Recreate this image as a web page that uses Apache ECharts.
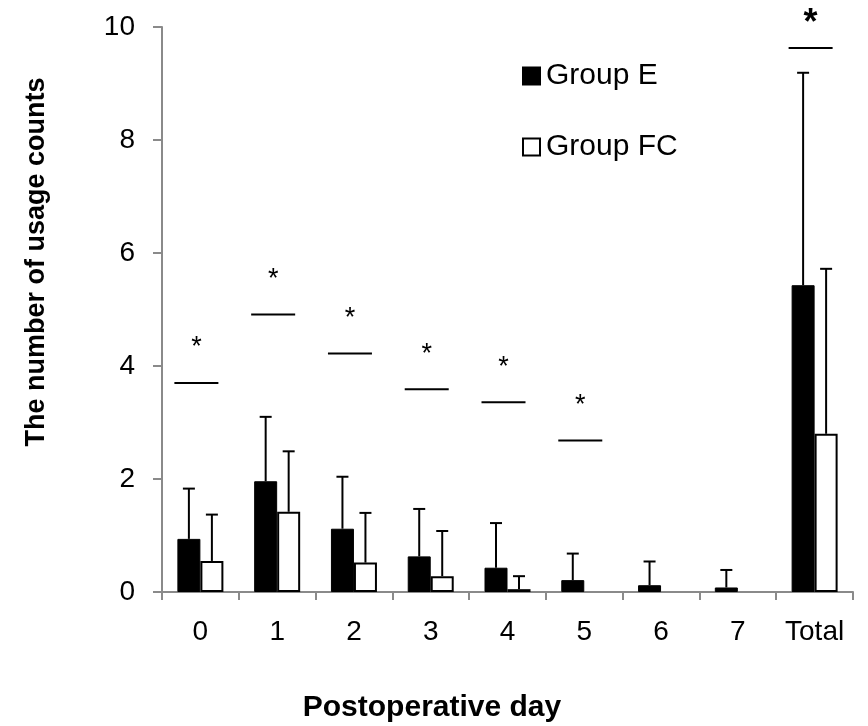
<!DOCTYPE html>
<html>
<head>
<meta charset="utf-8">
<script src="https://cdn.jsdelivr.net/npm/echarts@6/dist/echarts.min.js"></script>
<style>
  html, body { margin: 0; padding: 0; background: #fff; }
  #chart { width: 868px; height: 726px; }
</style>
</head>
<body>
<div id="chart"></div>
<script>
// data
const days = ['0', '1', '2', '3', '4', '5', '6', '7', 'Total'];
const groupE = [0.94, 1.96, 1.12, 0.63, 0.43, 0.21, 0.12, 0.08, 5.43];
const errE = [0.89, 1.14, 0.92, 0.84, 0.79, 0.47, 0.42, 0.31, 3.76];
const groupFC = [0.55, 1.42, 0.52, 0.28, 0.05, 0, 0, 0, 2.80];
const errFC = [0.82, 1.07, 0.88, 0.80, 0.23, 0, 0, 0, 2.92];
const sigLevel = [3.70, 4.91, 4.22, 3.59, 3.36, 2.68, null, null, 9.63];
const yTicks = [0, 2, 4, 6, 8, 10];

const FONT = 'Liberation Sans';
const BAR_W = 23;
const AXIS_GRAY = '#8a8a8a';

const myChart = echarts.init(document.getElementById('chart'));

function errorBar(shift) {
    return function (params, api) {
        const i = api.value(0);
        if (api.value(2) <= api.value(1)) return null;
        const base = api.coord([i, api.value(1)]);
        const top = api.coord([i, api.value(2)]);
        const x = base[0] + shift;
        const st = { stroke: '#000', lineWidth: 2 };
        return {
            type: 'group',
            children: [
                { type: 'line', shape: { x1: x, y1: base[1], x2: x, y2: top[1] }, style: st },
                { type: 'line', shape: { x1: x - 6, y1: top[1], x2: x + 6, y2: top[1] }, style: st }
            ]
        };
    };
}

const sigData = [];
sigLevel.forEach(function (v, i) {
    if (v != null) sigData.push([i, v]);
});

// zero-height bars are not drawn in the original
function hideZero(arr) {
    return arr.map(function (v) { return v === 0 ? '-' : v; });
}

const option = {
    animation: false,
    grid: { left: 162, right: 15, top: 27, bottom: 134 },
    legend: {
        orient: 'vertical',
        left: 522,
        top: 61,
        padding: 0,
        icon: 'rect',
        itemWidth: 17,
        itemHeight: 17,
        itemGap: 41,
        data: ['Group E', 'Group FC'],
        textStyle: { fontFamily: FONT, fontSize: 30, color: '#000', padding: [0, 0, 0, 1] }
    },
    xAxis: {
        type: 'category',
        data: days,
        boundaryGap: true,
        axisLine: { lineStyle: { color: AXIS_GRAY, width: 2 } },
        axisTick: { show: true, interval: 0, length: 8, lineStyle: { color: AXIS_GRAY, width: 2 } },
        axisLabel: { interval: 0, fontFamily: FONT, fontSize: 28, color: '#000', margin: 26 }
    },
    yAxis: {
        type: 'value',
        min: yTicks[0],
        max: yTicks[yTicks.length - 1],
        interval: 2,
        splitLine: { show: false },
        axisLine: { show: true, lineStyle: { color: AXIS_GRAY, width: 2 } },
        axisTick: { show: true, length: 9, lineStyle: { color: AXIS_GRAY, width: 2 } },
        axisLabel: { fontFamily: FONT, fontSize: 28, color: '#000', margin: 27 }
    },
    graphic: [
        {
            type: 'text', x: 37, y: 262, rotation: Math.PI / 2,
            style: {
                text: 'The number of usage counts', font: 'bold 27px ' + FONT,
                fill: '#000', align: 'center', verticalAlign: 'middle'
            }
        },
        {
            type: 'text', x: 432, y: 708,
            style: {
                text: 'Postoperative day', font: 'bold 30px ' + FONT,
                fill: '#000', align: 'center', verticalAlign: 'middle'
            }
        }
    ],
    series: [
        {
            name: 'Group E',
            type: 'bar',
            data: hideZero(groupE),
            barWidth: BAR_W,
            barGap: '0%',
            itemStyle: { color: '#000', borderColor: '#000', borderWidth: 1 }
        },
        {
            name: 'Group FC',
            type: 'bar',
            data: hideZero(groupFC),
            barWidth: BAR_W,
            itemStyle: { color: '#fff', borderColor: '#000', borderWidth: 2 }
        },
        {
            type: 'custom',
            data: groupE.map(function (v, i) { return [i, v, v + errE[i]]; }),
            renderItem: errorBar(-BAR_W / 2),
            z: 3
        },
        {
            type: 'custom',
            data: groupFC.map(function (v, i) { return [i, v, v + errFC[i]]; }),
            renderItem: errorBar(BAR_W / 2),
            z: 3
        },
        {
            type: 'custom',
            data: sigData,
            z: 3,
            renderItem: function (params, api) {
                const i = api.value(0);
                const p = api.coord([i, api.value(1)]);
                const x = p[0] - 4;
                const isTotal = i === days.length - 1;
                return {
                    type: 'group',
                    children: [
                        {
                            type: 'line',
                            shape: { x1: x - 22, y1: p[1], x2: x + 22, y2: p[1] },
                            style: { stroke: '#000', lineWidth: 2 }
                        },
                        {
                            type: 'text',
                            x: x,
                            y: p[1] - (isTotal ? 24 : 35),
                            style: {
                                text: '*',
                                font: (isTotal ? 'bold 36px ' : '27px ') + FONT,
                                fill: '#000', align: 'center', verticalAlign: 'middle'
                            }
                        }
                    ]
                };
            }
        }
    ]
};

myChart.setOption(option);
window.addEventListener('resize', function () {
    myChart.resize();
});
</script>
</body>
</html>
